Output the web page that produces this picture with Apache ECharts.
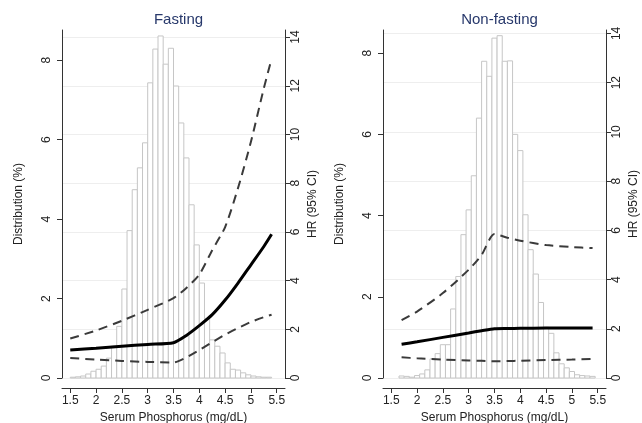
<!DOCTYPE html>
<html>
<head>
<meta charset="utf-8">
<script src="https://cdn.jsdelivr.net/npm/echarts@6/dist/echarts.min.js"></script>
<style>
html,body{margin:0;padding:0;background:#fff;}
#chart{width:642px;height:423px;}
</style>
</head>
<body>
<div id="chart"></div>
<script>
// ---------- data ----------
const panelTitles = ['Fasting', 'Non-fasting'];
const xLabel = 'Serum Phosphorus (mg/dL)';
const yLeftLabel = 'Distribution (%)';
const yRightLabel = 'HR (95% CI)';
const xTicks = [1.5, 2, 2.5, 3, 3.5, 4, 4.5, 5, 5.5];
const distTicks = [0, 2, 4, 6, 8];
const hrTicks = [0, 2, 4, 6, 8, 10, 12, 14];
const binWidth = 0.1;

// Fasting histogram (bin centre, % of patients)
const fastBins = [1.55,1.65,1.75,1.85,1.95,2.05,2.15,2.25,2.35,2.45,2.55,2.65,2.75,2.85,2.95,3.05,3.15,3.25,3.35,3.45,3.55,3.65,3.75,3.85,3.95,4.05,4.15,4.25,4.35,4.45,4.55,4.65,4.75,4.85,4.95,5.05,5.15,5.25,5.35];
const fastDist = [0.02,0.03,0.05,0.1,0.17,0.22,0.3,0.5,0.8,1.3,2.24,3.71,4.74,5.29,5.92,7.43,8.28,8.61,7.9,8.3,7.35,6.42,5.54,4.36,3.35,2.39,1.5,0.96,0.8,0.63,0.38,0.22,0.2,0.13,0.08,0.05,0.03,0.02,0.02];
// Fasting hazard ratio curve
const fastX     = [1.5, 2.0, 2.5, 3.0, 3.5, 3.75, 4.0, 4.25, 4.5, 4.75, 5.0, 5.25, 5.4];
const fastHR    = [1.15, 1.22, 1.3, 1.38, 1.45, 1.75, 2.15, 2.6, 3.2, 3.9, 4.65, 5.4, 5.9];
const fastUpper = [1.62, 1.95, 2.35, 2.8, 3.28, 3.7, 4.25, 5.25, 6.2, 7.8, 9.7, 11.9, 13.1];
const fastLower = [0.82, 0.76, 0.7, 0.66, 0.64, 0.85, 1.15, 1.47, 1.78, 2.05, 2.3, 2.5, 2.6];

// Non-fasting histogram
const nonBins = [1.7,1.8,1.9,2.0,2.1,2.2,2.3,2.4,2.5,2.6,2.7,2.8,2.9,3.0,3.1,3.2,3.3,3.4,3.5,3.6,3.7,3.8,3.9,4.0,4.1,4.2,4.3,4.4,4.5,4.6,4.7,4.8,4.9,5.0,5.1,5.2,5.3,5.4];
const nonDist = [0.05,0.04,0.02,0.06,0.1,0.2,0.47,0.6,0.82,0.82,1.7,2.5,3.53,4.14,4.98,6.4,7.8,7.43,8.37,8.43,7.8,7.81,6.0,5.6,4.02,3.16,2.56,1.86,1.25,1.1,0.62,0.35,0.25,0.16,0.08,0.06,0.05,0.04];
// Non-fasting hazard ratio curve
const nonX     = [1.7, 2.0, 2.5, 3.0, 3.25, 3.5, 3.75, 4.0, 4.5, 5.0, 5.4];
const nonHR    = [1.37, 1.47, 1.65, 1.83, 1.92, 2.0, 2.01, 2.02, 2.03, 2.03, 2.03];
const nonUpper = [2.35, 2.7, 3.45, 4.4, 5.0, 5.85, 5.7, 5.58, 5.4, 5.32, 5.28];
const nonLower = [0.84, 0.8, 0.75, 0.71, 0.7, 0.68, 0.69, 0.7, 0.73, 0.75, 0.77];

// ---------- layout ----------
const FONT = '"Liberation Sans", Arial, Helvetica, sans-serif';
const TXT = '#222';
const panels = [
  {left: 62, distMax: 8.76, hrMax: 14.29, bins: fastBins, dist: fastDist, x: fastX, hr: fastHR, up: fastUpper, lo: fastLower},
  {left: 383, distMax: 8.57, hrMax: 14.14, bins: nonBins, dist: nonDist, x: nonX, hr: nonHR, up: nonUpper, lo: nonLower}
];
const GW = 223, GTOP = 30, GH = 348;

const zip = (a, b) => a.map((v, i) => [v, b[i]]);

const option = {
  animation: false,
  backgroundColor: '#fff',
  textStyle: {fontFamily: FONT},
  title: panels.map((p, i) => ({
    text: panelTitles[i],
    left: p.left + GW / 2,
    top: 7,
    textAlign: 'center',
    textStyle: {fontFamily: FONT, fontSize: 15, fontWeight: 'normal', color: '#27386b'}
  })),
  grid: panels.map(p => ({left: p.left, top: GTOP, width: GW, height: GH, containLabel: false, outerBoundsMode: 'none'})),
  xAxis: panels.map((p, i) => ({
    type: 'value', gridIndex: i, min: 1.34, max: 5.66, offset: 10,
    name: xLabel, nameLocation: 'middle', nameGap: 21,
    nameTextStyle: {fontFamily: FONT, fontSize: 12, color: TXT},
    axisLine: {show: true, onZero: false, lineStyle: {color: '#333', width: 1}},
    axisTick: {show: true, length: 5, inside: false, customValues: xTicks, lineStyle: {color: '#333'}},
    axisLabel: {customValues: xTicks, fontFamily: FONT, fontSize: 12, color: TXT, margin: 7},
    splitLine: {show: false}
  })),
  yAxis: [].concat(...panels.map((p, i) => [
    {
      type: 'value', gridIndex: i, min: 0, max: p.distMax, position: 'left',
      name: yLeftLabel, nameLocation: 'middle', nameGap: 37, nameRotate: 90,
      nameTextStyle: {fontFamily: FONT, fontSize: 12, color: TXT},
      axisLine: {show: true, lineStyle: {color: '#333', width: 1}},
      axisTick: {show: true, length: 5, customValues: distTicks, lineStyle: {color: '#333'}},
      axisLabel: {customValues: distTicks, rotate: 90, fontFamily: FONT, fontSize: 12, color: TXT, margin: 9},
      splitLine: {show: false}
    },
    {
      type: 'value', gridIndex: i, min: 0, max: p.hrMax, position: 'right',
      name: yRightLabel, nameLocation: 'middle', nameGap: 22, nameRotate: 90,
      nameTextStyle: {fontFamily: FONT, fontSize: 12, color: TXT},
      axisLine: {show: true, lineStyle: {color: '#333', width: 1}},
      axisTick: {show: true, length: 5, customValues: hrTicks, lineStyle: {color: '#333'}},
      axisLabel: {customValues: hrTicks, rotate: 90, fontFamily: FONT, fontSize: 12, color: TXT, margin: 5},
      splitLine: {show: true, lineStyle: {color: '#eeeeee', width: 1}}
    }
  ])),
  series: [].concat(...panels.map((p, i) => [
    {
      type: 'custom', xAxisIndex: i, yAxisIndex: 2 * i, z: 2,
      data: zip(p.bins, p.dist),
      renderItem: function (params, api) {
        const x = api.value(0), y = api.value(1);
        const a = api.coord([x - binWidth / 2, y]);
        const b = api.coord([x + binWidth / 2, 0]);
        return {
          type: 'rect',
          shape: {x: a[0], y: a[1], width: b[0] - a[0], height: b[1] - a[1]},
          style: {fill: '#ffffff', stroke: '#c6c6c6', lineWidth: 1}
        };
      }
    },
    {
      type: 'line', xAxisIndex: i, yAxisIndex: 2 * i + 1, z: 5, symbol: 'none', smooth: 0.25,
      data: zip(p.x, p.up),
      lineStyle: {color: '#3a3a3a', width: 2, type: [9, 6]}
    },
    {
      type: 'line', xAxisIndex: i, yAxisIndex: 2 * i + 1, z: 5, symbol: 'none', smooth: 0.25,
      data: zip(p.x, p.lo),
      lineStyle: {color: '#3a3a3a', width: 2, type: [9, 6]}
    },
    {
      type: 'line', xAxisIndex: i, yAxisIndex: 2 * i + 1, z: 6, symbol: 'none', smooth: 0.25,
      data: zip(p.x, p.hr),
      lineStyle: {color: '#000', width: 3}
    }
  ]))
};

const chart = echarts.init(document.getElementById('chart'), null, {renderer: 'canvas'});
chart.setOption(option);
</script>
</body>
</html>
